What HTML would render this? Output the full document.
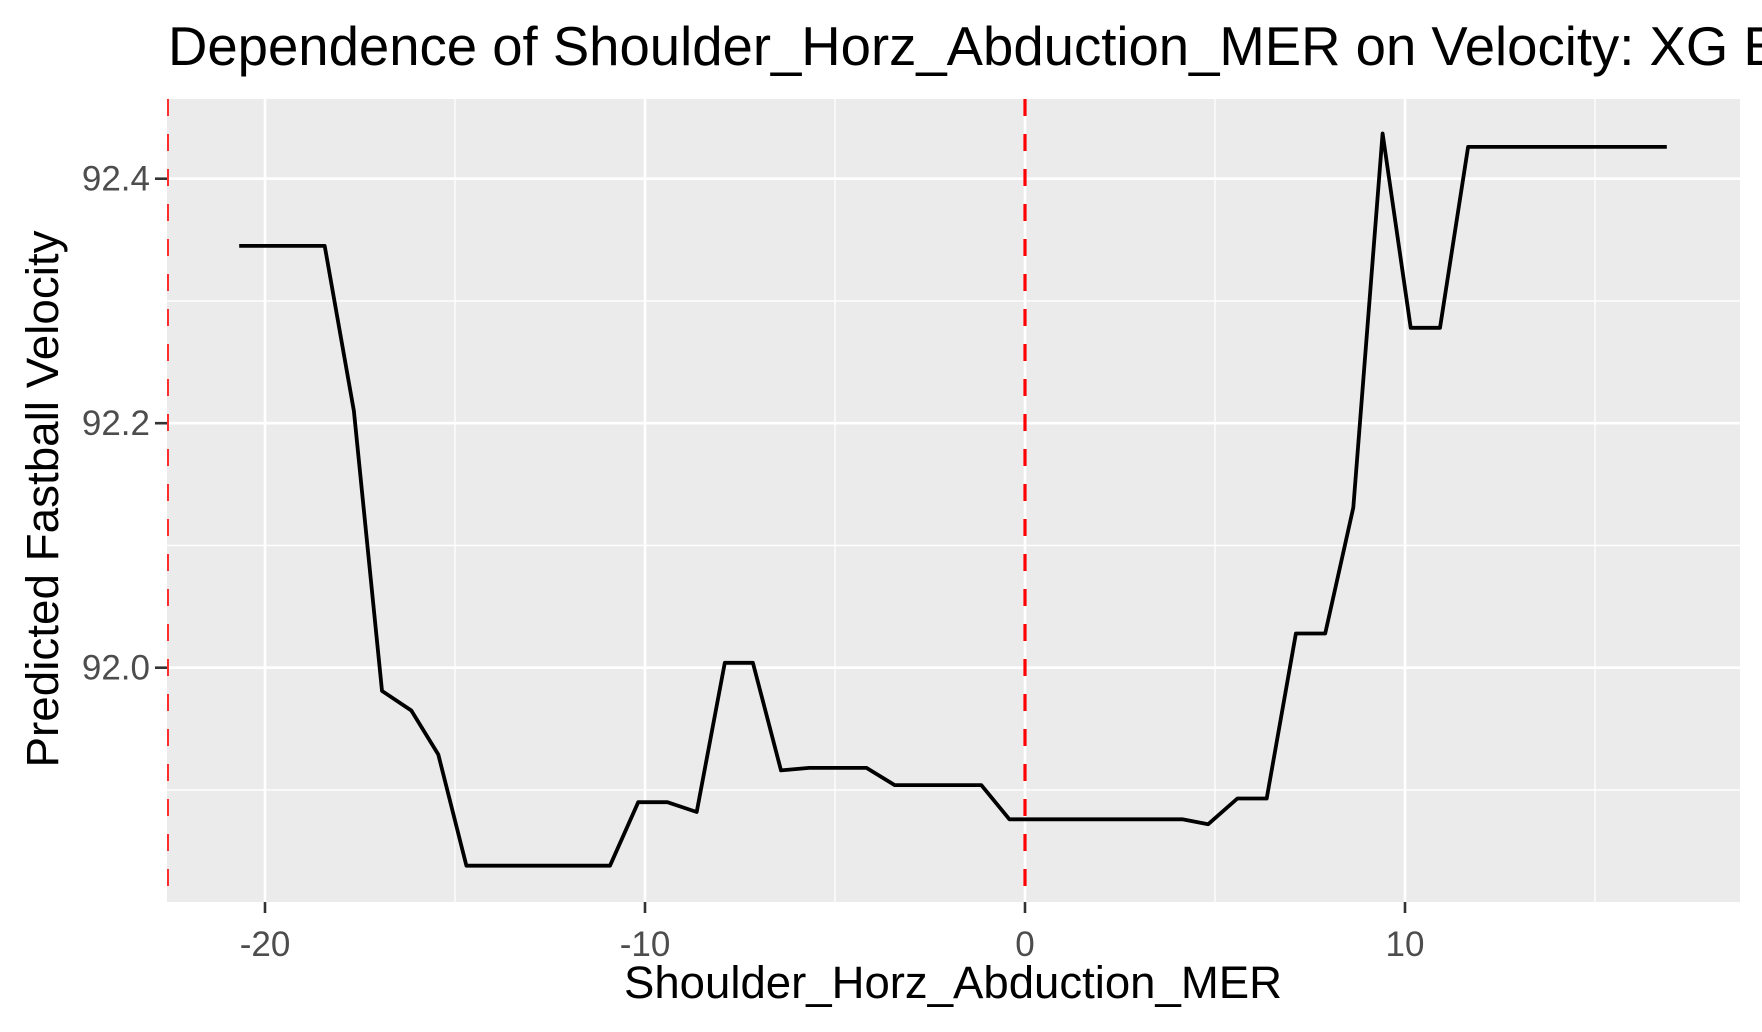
<!DOCTYPE html>
<html><head><meta charset="utf-8"><style>
html,body{margin:0;padding:0;background:#fff;overflow:hidden}
svg{display:block;font-family:"Liberation Sans",Arial,sans-serif}
</style></head><body>
<svg id="chart" width="1762" height="1032" viewBox="0 0 1762 1032" xmlns="http://www.w3.org/2000/svg">
<rect x="0" y="0" width="1762" height="1032" fill="#fff"/>
<text x="168" y="65" font-size="54.5" fill="#000">Dependence of Shoulder_Horz_Abduction_MER on Velocity: XG Boost Model</text>
<rect x="167" y="99" width="1573" height="803" fill="#ebebeb"/>
<g id="grid"></g>
<g id="vlines"></g>
<g id="series"></g>
<g id="axes"></g>
<text x="953" y="998" font-size="45" text-anchor="middle" textLength="658" lengthAdjust="spacingAndGlyphs" fill="#000">Shoulder_Horz_Abduction_MER</text>
<text transform="translate(58,499) rotate(-90)" font-size="45" text-anchor="middle" textLength="537" lengthAdjust="spacingAndGlyphs" fill="#000">Predicted Fastball Velocity</text>
</svg>
<script>
const xValues = [-20.68,-18.43,-17.66,-16.92,-16.15,-15.44,-14.70,-10.92,-10.18,-9.41,-8.64,-7.90,-7.16,-6.42,-5.68,-4.17,-3.43,-1.15,-0.41,4.14,4.82,5.59,6.36,7.13,7.90,8.64,9.41,10.15,10.92,11.66,16.89];
const yValues = [92.345,92.345,92.210,91.981,91.965,91.929,91.838,91.838,91.890,91.890,91.882,92.004,92.004,91.916,91.918,91.918,91.904,91.904,91.876,91.876,91.872,91.893,91.893,92.028,92.028,92.131,92.437,92.278,92.278,92.426,92.426];
const xTicks = [-20,-10,0,10];
const xTickLabels = ["-20","-10","0","10"];
const xMinor = [-15,-5,5,15];
const yTicks = [92.0,92.2,92.4];
const yTickLabels = ["92.0","92.2","92.4"];
const yMinor = [91.9,92.1,92.3];
const refLines = [-22.6,0];

const L=167,R=1740,T=99,B=902;
const xs = v => 1025 + (v-0)*38;
const ys = v => 667.7 - (v-92.0)*1222.5;
const NS="http://www.w3.org/2000/svg";
function mk(tag, attrs, parent){const e=document.createElementNS(NS,tag);for(const k in attrs)e.setAttribute(k,attrs[k]);parent.appendChild(e);return e;}
const grid=document.getElementById('grid'), axes=document.getElementById('axes'), vl=document.getElementById('vlines'), series=document.getElementById('series');

yMinor.forEach(v=>{const e=mk('line',{x1:L,x2:R,y1:ys(v),y2:ys(v),stroke:'#fff','stroke-width':1.3},grid);

});
xMinor.forEach(v=>{const e=mk('line',{x1:xs(v),x2:xs(v),y1:T,y2:B,stroke:'#fff','stroke-width':1.3},grid);

});
yTicks.forEach((v,i)=>{const y=ys(v);
const g=mk('line',{x1:L,x2:R,y1:y,y2:y,stroke:'#fff','stroke-width':2.6},grid);


const t=mk('line',{x1:155,x2:L,y1:y,y2:y,stroke:'#333','stroke-width':2.6},axes);


const l=mk('text',{x:150,y:y+12,'font-size':35,'text-anchor':'end',fill:'#4d4d4d'},axes);l.textContent=yTickLabels[i];

});
xTicks.forEach((v,i)=>{const x=xs(v);
const g=mk('line',{x1:x,x2:x,y1:T,y2:B,stroke:'#fff','stroke-width':2.6},grid);


const t=mk('line',{x1:x,x2:x,y1:B,y2:913,stroke:'#333','stroke-width':2.6},axes);


const l=mk('text',{x:x,y:956,'font-size':35,'text-anchor':'middle',fill:'#4d4d4d'},axes);l.textContent=xTickLabels[i];

});
refLines.forEach((v,i)=>{const e=mk('line',{x1:Math.max(xs(v),168),x2:Math.max(xs(v),168),y1:T,y2:B,stroke:'#ff0000','stroke-width':i===0?1.6:3.2,'stroke-dasharray':'17 18'},vl);

});
const pts=xValues.map((x,i)=>xs(x).toFixed(1)+','+ys(yValues[i]).toFixed(1)).join(' ');
const pl=mk('polyline',{points:pts,fill:'none',stroke:'#000','stroke-width':3.8,'stroke-linejoin':'round'},series);


</script>
</body></html>
